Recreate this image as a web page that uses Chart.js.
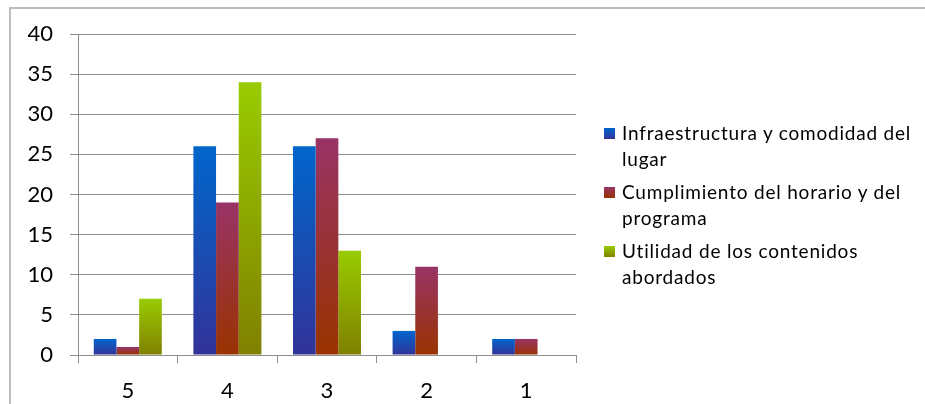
<!DOCTYPE html>
<html>
<head>
<meta charset="utf-8">
<script src="https://cdn.jsdelivr.net/npm/chart.js@4/dist/chart.umd.min.js"></script>
<style>
  html, body { margin: 0; padding: 0; background: #fff; }
  #wrap { position: relative; width: 925px; height: 404px; overflow: hidden; font-family: Lato, "Open Sans", sans-serif; }
  #frame { position: absolute; left: 9px; top: 7px; right: -10px; bottom: -10px; border-top: 2px solid #bdbdbd; border-left: 2px solid #bdbdbd; pointer-events: none; }
  #chart { position: absolute; left: 0; top: 0; }
  #legend { position: absolute; left: 604px; top: 120px; width: 320px; font-size: 19px; letter-spacing: 0.8px; line-height: 26px; color: #000; }
  .item { position: relative; padding-left: 18px; margin-bottom: 7px; }
  .sw { position: absolute; left: 0; top: 8px; width: 11px; height: 11px; }
</style>
</head>
<body>
<div id="wrap">
  <canvas id="chart" width="925" height="404"></canvas>
  <div id="frame"></div>
  <div id="legend"></div>
</div>
<script>
// Rating scale (5 = best) and the number of answers per rating
const ratings = ["5", "4", "3", "2", "1"];
const infraestructura = [2, 26, 26, 3, 2];
const cumplimiento = [1, 19, 27, 11, 2];
const utilidad = [7, 34, 13, 0, 0];
const yTicks = [0, 5, 10, 15, 20, 25, 30, 35, 40];

const seriesNames = [
  "Infraestructura y comodidad del lugar",
  "Cumplimiento del horario y del programa",
  "Utilidad de los contenidos abordados"
];
// top / bottom colours of each series' vertical gradient
const gradients = [
  ["#0066cc", "#333399"],
  ["#993366", "#993300"],
  ["#99cc00", "#808000"]
];

function barFill(idx) {
  return function (ctx) {
    const chart = ctx.chart;
    const y = chart.scales.y;
    if (!y || ctx.raw === undefined) return gradients[idx][0];
    const top = y.getPixelForValue(ctx.raw);
    const base = y.getPixelForValue(0);
    if (!isFinite(top) || !isFinite(base) || base - top < 0.5) return gradients[idx][0];
    const g = chart.ctx.createLinearGradient(0, top, 0, base);
    g.addColorStop(0, gradients[idx][0]);
    g.addColorStop(1, gradients[idx][1]);
    return g;
  };
}

const gridColor = "#8e8e8e";
const values = [infraestructura, cumplimiento, utilidad];

const chart = new Chart(document.getElementById("chart"), {
  type: "bar",
  data: {
    labels: ratings,
    datasets: values.map((v, i) => ({
      label: seriesNames[i],
      data: v,
      backgroundColor: barFill(i),
      borderWidth: 0,
      categoryPercentage: 0.683,
      barPercentage: 1
    }))
  },
  options: {
    responsive: false,
    animation: false,
    events: [],
    layout: { padding: { top: 34, right: 349, left: 0, bottom: 0 } },
    plugins: { legend: { display: false }, tooltip: { enabled: false } },
    scales: {
      x: {
        grid: { drawOnChartArea: false, drawTicks: true, tickLength: 8, color: gridColor, offset: true },
        border: { display: true, color: gridColor },
        ticks: { color: "#000", font: { family: "Lato", size: 22 }, padding: 15 },
        afterFit: (s) => { s.height = 49; }
      },
      y: {
        min: 0,
        max: 40,
        afterBuildTicks: (s) => { s.ticks = yTicks.map(v => ({ value: v })); },
        grid: { color: gridColor, tickLength: 8 },
        border: { display: true, color: gridColor },
        ticks: { color: "#000", font: { family: "Lato", size: 22 }, padding: 17 },
        afterFit: (s) => { s.width = 78; }
      }
    }
  }
});

// wrapped legend built from the chart's datasets
const legend = document.getElementById("legend");
chart.data.datasets.forEach((ds, i) => {
  const item = document.createElement("div");
  item.className = "item";
  const sw = document.createElement("span");
  sw.className = "sw";
  sw.style.background = "linear-gradient(" + gradients[i][0] + "," + gradients[i][1] + ")";
  item.appendChild(sw);
  item.appendChild(document.createTextNode(ds.label));
  legend.appendChild(item);
});
</script>
</body>
</html>
